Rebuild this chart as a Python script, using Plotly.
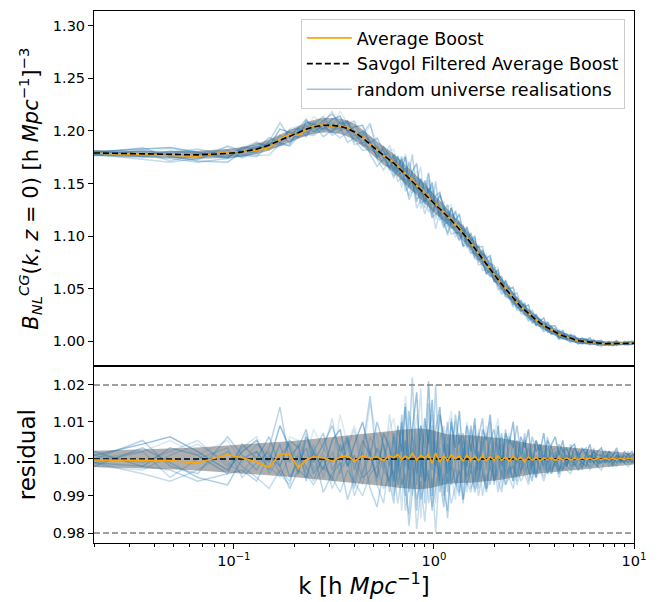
import numpy as np
import plotly.graph_objects as go
from plotly.subplots import make_subplots

# ---------------- data ----------------
k_values = [0.020, 0.035, 0.048, 0.066, 0.093, 0.11, 0.13, 0.15, 0.17, 0.19, 0.21, 0.23, 0.25,
            0.28, 0.31, 0.34, 0.37, 0.40, 0.44, 0.48, 0.52, 0.56, 0.60,
            0.63, 0.66, 0.69, 0.72, 0.75, 0.78, 0.82, 0.86, 0.90, 0.94, 0.98, 1.02, 1.07, 1.12,
            1.17, 1.22, 1.28, 1.34, 1.40, 1.46, 1.53, 1.60, 1.67, 1.75, 1.83, 1.91, 2.00, 2.09,
            2.18, 2.28, 2.38, 2.49, 2.60, 2.72, 2.84, 2.97, 3.10, 3.24, 3.39, 3.54, 3.70, 3.87,
            4.04, 4.22, 4.41, 4.61, 4.82, 5.04, 5.27, 5.51, 5.76, 6.02, 6.29, 6.57, 6.87, 7.18,
            7.50, 7.84, 8.19, 8.56, 8.95, 9.35, 9.77, 10.0]

savgol_boost = [1.1790, 1.1780, 1.1772, 1.1772, 1.1785, 1.1800, 1.1826, 1.1865, 1.1910, 1.1950,
                1.1985, 1.2015, 1.2038, 1.2053, 1.2052, 1.2043, 1.2022, 1.1990, 1.1934, 1.1870,
                1.1815, 1.1768, 1.1725,
                1.1693, 1.1656, 1.1620, 1.1587, 1.1554, 1.1523, 1.1483, 1.1441, 1.1402, 1.1364,
                1.1328, 1.1294, 1.1257, 1.1221, 1.1186, 1.1152, 1.1108, 1.1066, 1.1026, 1.0984,
                1.0932, 1.0881, 1.0833, 1.0781, 1.0732, 1.0685, 1.0634, 1.0586, 1.0541, 1.0497,
                1.0454, 1.0409, 1.0366, 1.0326, 1.0295, 1.0263, 1.0232, 1.0200, 1.0171, 1.0149,
                1.0127, 1.0105, 1.0083, 1.0065, 1.0052, 1.0039, 1.0026, 1.0013, 1.0004, 1.0000,
                0.9995, 0.9991, 0.9986, 0.9982, 0.9977, 0.9975, 0.9976, 0.9976, 0.9977, 0.9978,
                0.9978, 0.9979, 0.9980, 0.9980]

# 1-sigma spread of realisations (per mille)
sigma_permille = [2.2, 2.5, 2.8, 3.1, 3.6, 3.9, 4.1, 4.4, 4.6, 4.8, 5.0, 5.2, 5.4, 5.7, 5.9, 6.1,
                  6.3, 6.5, 6.7, 6.9, 7.1, 7.3, 7.5,
                  7.6, 7.8, 7.9, 8.0, 8.1, 8.2, 8.2, 8.2, 8.1, 8.0, 7.8, 7.5, 7.2, 6.9, 6.7, 6.6,
                  6.5, 6.5, 6.4, 6.4, 6.4, 6.3, 6.3, 6.2, 6.1, 6.0, 5.9, 5.8, 5.6, 5.4, 5.2, 5.0,
                  4.8, 4.6, 4.4, 4.3, 4.1, 4.0, 3.9, 3.8, 3.7, 3.6, 3.5, 3.4, 3.3, 3.2, 3.1, 3.0,
                  2.9, 2.8, 2.7, 2.6, 2.5, 2.4, 2.3, 2.2, 2.1, 2.0, 1.9, 1.8, 1.7, 1.6, 1.6, 1.5]

# average boost relative to the Savgol-filtered boost (per mille)
average_dev = [-0.3, -0.3, -0.4, -1.1, 1.2, 0.3, -0.8, -2.3, 1.4, 1.2, -2.4, -0.2, 0.6, 0.3, -0.6,
               0.5, 0.9, -0.6, 0.8, 0.2, 0.6, -0.4, 0.9,
               0.3, 1.2, -0.2, 0.8, 0.1, 1.5, -0.3, 1.0, 0.2, 1.3, -1.2, 1.6, -0.8, 0.9, -0.5, 1.1,
               0.0, 0.8, -0.6, 1.0, -0.3, 0.7, -0.4, 0.9, -0.5, 0.6, -0.3, 0.8, -0.4, 0.5, -0.6,
               0.7, -0.2, 0.4, -0.7, 0.5, -0.3, 0.4, -0.5, 0.3, -0.2, 0.4, -0.4, 0.3, -0.2, 0.3,
               -0.3, 0.2, -0.2, 0.3, -0.1, 0.2, -0.2, 0.1, -0.2, 0.2, -0.1, 0.1, -0.1, 0.1, -0.1,
               0.1, 0.0, 0.0]

# individual universe realisations relative to the Savgol boost (per mille)
real_1 = [1, 4, 6, 2, -3, 2, 5, -1, 9, 3, -4, 6, 2, -3, 5, 8, -2, 4, 10, 1, -5, 7, 3,
          -6, 9, 2, 14, -3, 8, 18, -5, 11, 4, 16, -2, 12, 6, -4, 10, 3, 13, -1, 9, 2, 11, -3, 8,
          5, 12, 0, 9, -2, 7, 4, 10, -1, 6, 3, 8, -2, 5, 2, 7, -1, 4, 6, 1, 5, -2, 3, 4, 0, 3, 1,
          4, -1, 2, 3, 0, 2, 1, 3, -1, 2, 1, 2, 1]
real_2 = [-1, -4, -6, -3, 2, -2, -5, -8, -3, -6, 1, -4, -7, -2, -5, -9, -3, -6, -10, -4, -2, -8, -5,
          -3, -12, -5, -9, -15, -2, -11, -6, -17, -4, -13, -8, -1, -10, -5, -12, -7, -3, -11, -6,
          -9, -2, -10, -4, -8, -6, -1, -9, -3, -7, -5, -8, -2, -6, -4, -7, -1, -5, -3, -6, -2, -4,
          -1, -5, -2, -3, -4, -1, -3, -2, 0, -3, -1, -2, -3, 0, -2, -1, -2, 0, -1, -2, -1, -1]
real_3 = [0, 5, -2, -4, 6, 1, -3, 3, 14, -1, 4, -6, 2, 7, -3, 1, 5, -8, 3, 17, -2, 4, -9,
          6, -4, 12, -10, 3, 22, -7, 9, -12, 15, -3, 20, -6, 4, -9, 11, -2, 7, -11, 5, -4, 9, -8,
          6, -3, 10, -7, 2, -5, 8, -1, -6, 5, -3, 7, -4, 2, -5, 4, -2, 6, -3, 1, -4, 3, -2, 4, -1,
          2, -3, 2, -1, 3, -2, 1, -1, 2, -2, 1, 0, -1, 2, -1, 0]
real_4 = [-2, -3, 1, 4, -1, -4, 2, -2, -5, 1, 3, -3, 4, -5, 2, -4, 6, -1, -7, 3, -6, 1, 5,
          -8, 2, -14, 5, -3, -10, 7, -16, 1, -6, 9, -12, 3, -8, 6, -4, -11, 2, 5, -9, 4, -6, 8,
          -3, -7, 3, -5, 6, -8, 1, -4, 5, -6, 2, -3, 4, -5, 1, -2, 3, -4, 2, -1, 3, -3, 1, -2, 2,
          -1, -2, 1, -1, 2, -1, -1, 1, 0, -1, 1, -1, 0, 1, -1, 0]
real_5 = [2, -2, 3, 1, -4, 4, 0, 6, -2, 5, 3, 8, -1, 4, 9, 2, 6, -3, 5, 1, 10, 4, -2,
          7, 1, 10, -2, 13, 5, -4, 9, 3, 21, -1, 8, 14, 2, 10, -3, 12, 4, 7, -2, 9, 1, 6, 11, -1,
          5, 8, 2, 7, -2, 6, 3, 9, 1, 5, -1, 6, 2, 4, 0, 5, 3, -1, 4, 2, 3, 0, 3, 1, 2, 3, 0, 2,
          1, 1, 2, 0, 1, 2, 0, 1, 0, 1, 1]
real_6 = [-1, 2, -5, 0, 3, -5, -1, 2, -4, -7, 2, -2, -6, 1, -8, -3, 0, -10, -4, 2, -7, -12, 0,
          -10, -3, 4, -14, -6, 0, -19, -8, 3, -12, -5, -20, -2, -9, -14, 1, -7, -3, -12, 0, -8,
          -5, 2, -10, -4, -7, 1, -6, -9, -2, -5, 0, -7, -3, -1, -6, 1, -4, -2, -5, 0, -3, -1, -4,
          1, -2, -3, 0, -2, -1, -2, 1, -1, -2, 0, -1, 0, -2, 1, -1, 0, -1, 0, 0]
real_7 = [1, -1, 2, 5, -2, 3, 6, -4, 1, 4, -1, 7, -3, 2, 11, -2, 3, 8, -4, 6, 2, -3, 12,
          4, -2, 8, 15, -5, 6, 2, 19, -8, 7, 12, -4, 5, 9, -6, 3, 10, -4, 6, -2, 8, 2, -5, 4, 7,
          -3, 5, 1, 6, -4, 3, 5, -2, 4, 0, 3, -3, 5, 1, -2, 3, 1, -2, 2, 0, 3, -1, 1, 2, -1, 1, 0,
          2, -1, 1, 0, 1, -1, 1, 0, 1, 0, -1, 0]
real_8 = [-2, 3, -1, -5, -7, 0, 2, -3, 4, -5, -1, 3, -4, 0, -6, 4, -2, 1, -5, -3, 3, -1, -6,
          2, -7, -1, 5, -9, 3, -14, 0, -6, 8, -10, 1, -5, -13, 4, -7, -2, -9, 3, -5, -1, -8, 2,
          -4, -9, 1, -6, -2, 4, -5, -2, -6, 1, -4, 2, -3, -6, 0, -3, 1, -4, -1, 2, -3, -1, -2, 1,
          -2, 0, -1, -2, 1, -1, 0, -1, 1, -1, 0, -1, 1, 0, -1, 0, 0]
real_9 = [0, 2, 5, 1, 5, -1, 4, 1, -2, 6, 5, 0, 8, 3, -1, 12, 4, 9, 0, 15, 6, -3, 8,
          11, 3, -5, 17, 8, -2, 12, 4, -6, 20, 6, -1, 14, -4, 8, 13, 1, 6, -3, 10, 5, -4, 7, 2, 9,
          -2, 6, 11, -1, 4, 7, -3, 5, 2, 6, -1, 3, 5, 0, 4, -2, 2, 3, -1, 2, 1, -1, 3, 0, 1, 2, -1,
          1, 0, 2, -1, 1, 0, 1, 0, -1, 1, 0, 1]
real_10 = [-1, -2, -3, -6, -4, -3, -6, 1, -2, -8, -3, -5, 2, -9, -4, -1, -11, -5, 2, -8, -13, -3, -6,
           -12, 1, -7, -4, -18, -9, 2, -11, -6, -3, -14, 5, -9, -4, -16, -2, -6, -10, 1, -7, -3,
           -9, -5, 0, -8, -2, -6, -4, 1, -7, -3, -2, -5, 0, -4, -1, -3, -5, 2, -3, -1, -4, 0, -2,
           -3, 1, -2, -1, -3, 0, -1, -2, 1, -1, -1, 0, -1, 1, -1, 0, -1, 0, 1, -1]
realisations = [real_1, real_2, real_3, real_4, real_5, real_6, real_7, real_8, real_9, real_10]

x_tick_vals = [0.1, 1, 10]
x_tick_text = ["10<sup>\u22121</sup>", "10<sup>0</sup>", "10<sup>1</sup>"]
top_ticks = [1.00, 1.05, 1.10, 1.15, 1.20, 1.25, 1.30]
res_ticks = [0.98, 0.99, 1.00, 1.01, 1.02]

# ---------------- derived ----------------
k = np.array(k_values)
B = np.array(savgol_boost)
sig = np.array(sigma_permille) / 1000.0
avg_res = 1.0 + np.array(average_dev) / 1000.0
real_res = [1.0 + np.array(r) / 1000.0 for r in realisations]

FONT = "DejaVu Sans"
BLUE = "#1f77b4"
alphas = [0.45, 0.25, 0.3, 0.2, 0.35, 0.25, 0.2, 0.35, 0.15, 0.3]
BAND = "rgba(128,128,128,0.62)"

fig = make_subplots(rows=2, cols=1, shared_xaxes=True, vertical_spacing=0,
                    row_heights=[0.668, 0.332])

# ---- top panel ----
fig.add_trace(go.Scatter(x=k, y=B * (1 + sig), mode="lines", line=dict(width=0),
                         showlegend=False, hoverinfo="skip"), row=1, col=1)
fig.add_trace(go.Scatter(x=k, y=B * (1 - sig), mode="lines", line=dict(width=0),
                         fill="tonexty", fillcolor=BAND, showlegend=False, hoverinfo="skip"),
              row=1, col=1)
for i, r in enumerate(real_res):
    fig.add_trace(go.Scatter(x=k, y=B * r, mode="lines",
                             line=dict(color=BLUE, width=1.5), opacity=alphas[i],
                             name="random universe realisations", legendrank=3,
                             showlegend=(i == 0)), row=1, col=1)
fig.add_trace(go.Scatter(x=k, y=B * avg_res, mode="lines", line=dict(color="#FFA500", width=1.6),
                         name="Average Boost", legendrank=1), row=1, col=1)
fig.add_trace(go.Scatter(x=k, y=B, mode="lines",
                         line=dict(color="black", width=1.6, dash="6px,3px"),
                         name="Savgol Filtered Average Boost", legendrank=2), row=1, col=1)

# ---- residual panel ----
fig.add_trace(go.Scatter(x=k, y=1 + sig, mode="lines", line=dict(width=0),
                         showlegend=False, hoverinfo="skip"), row=2, col=1)
fig.add_trace(go.Scatter(x=k, y=1 - sig, mode="lines", line=dict(width=0),
                         fill="tonexty", fillcolor=BAND, showlegend=False, hoverinfo="skip"),
              row=2, col=1)
for i, r in enumerate(real_res):
    fig.add_trace(go.Scatter(x=k, y=r, mode="lines",
                             line=dict(color=BLUE, width=1.5), opacity=alphas[i],
                             showlegend=False), row=2, col=1)
fig.add_trace(go.Scatter(x=k, y=B / B, mode="lines",
                         line=dict(color="black", width=1.6, dash="6px,3px"),
                         showlegend=False), row=2, col=1)
fig.add_trace(go.Scatter(x=k, y=avg_res, mode="lines", line=dict(color="#FFA500", width=1.6),
                         showlegend=False), row=2, col=1)
for yv in (1.02, 0.98):
    fig.add_hline(y=yv, line=dict(color="gray", width=1.5, dash="6px,3px"), row=2, col=1)

axis_common = dict(showline=True, linecolor="black", linewidth=1, mirror=True,
                   showgrid=False, zeroline=False, ticks="outside", ticklen=5,
                   tickcolor="black", tickfont=dict(family=FONT, size=14.5, color="black"))

xr = [np.log10(0.02), 1]
minor_vals = [m * 10.0 ** e for e in (-2, -1, 0) for m in range(2, 10)]
fig.update_xaxes(type="log", range=xr, **axis_common)
fig.update_xaxes(showticklabels=False, ticks="", row=1, col=1)
fig.update_xaxes(tickvals=x_tick_vals, ticktext=x_tick_text,
                 minor=dict(tickvals=minor_vals, ticks="outside", ticklen=3, tickcolor="black"),
                 title=dict(text="k [h <i>Mpc</i><sup>\u22121</sup>]",
                            font=dict(family=FONT, size=23, color="black"), standoff=6),
                 row=2, col=1)
fig.update_yaxes(range=[0.976, 1.314], tickvals=top_ticks, tickformat=".2f",
                 title=dict(text="<i>B</i><sub><i>NL</i></sub><sup><i>CG</i></sup>(<i>k</i>, <i>z</i> = 0) [h <i>Mpc</i><sup>\u22121</sup>]<sup>\u22123</sup>",
                            font=dict(family=FONT, size=21, color="black"), standoff=8),
                 row=1, col=1, **axis_common)
fig.update_yaxes(range=[0.9773, 1.0250], tickvals=res_ticks, tickformat=".2f",
                 title=dict(text="residual", font=dict(family=FONT, size=23, color="black"),
                            standoff=10),
                 row=2, col=1, **axis_common)

fig.update_layout(
    width=661, height=602,
    margin=dict(l=94, r=27, t=10, b=56),
    paper_bgcolor="white", plot_bgcolor="white",
    font=dict(family=FONT, color="black"),
    legend=dict(x=0.983, y=0.985, xanchor="right", yanchor="top", traceorder="normal",
                bgcolor="rgba(255,255,255,0.8)", bordercolor="#cccccc", borderwidth=1,
                font=dict(family=FONT, size=17.5, color="black"), itemwidth=45),
    showlegend=True,
)

fig.write_html("out.html")
